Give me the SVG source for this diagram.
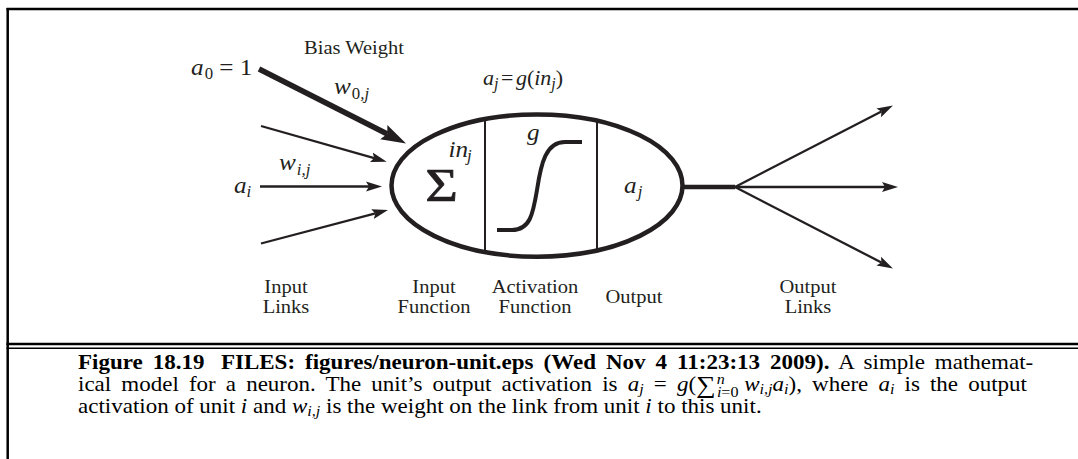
<svg xmlns="http://www.w3.org/2000/svg" width="1078" height="459" viewBox="0 0 1078 459">
<style>
.frame{stroke:#000;fill:none}
.lbl{font-family:"Liberation Serif","Times New Roman",serif;font-size:19px;fill:#231f20;text-anchor:middle}
.m{font-family:"Liberation Serif","Times New Roman",serif;font-size:24px;font-style:italic;fill:#231f20}
.s{font-size:16px}
.up{font-style:normal}
.cap{font-family:"Liberation Serif","Times New Roman",serif;font-size:20px;fill:#000}
.b{font-weight:bold}
.i{font-style:italic}
.cs{font-size:14px}
.thin{stroke:#231f20;stroke-width:2.3;fill:none}
.bold{stroke:#231f20;stroke-width:5.5;fill:none}
.unit{stroke:#231f20;fill:none}
</style>
<defs>
<marker id="ah" markerUnits="userSpaceOnUse" viewBox="0 -6 17 12" markerWidth="17" markerHeight="12" refX="3" refY="0" orient="auto">
<path d="M0,-5 L16,0 L0,5 L3,0 Z" fill="#231f20"/>
</marker>
<marker id="ahb" markerUnits="userSpaceOnUse" viewBox="0 -9 26 18" markerWidth="26" markerHeight="18" refX="4" refY="0" orient="auto">
<path d="M0,-8 L25,0 L0,8 L4,0 Z" fill="#231f20"/>
</marker>
</defs>
<rect width="1078" height="459" fill="#fff"/>
<g id="frame" class="frame">
<line x1="6.5" y1="9" x2="1078" y2="9" stroke-width="2.5"/>
<line x1="7.7" y1="8" x2="7.7" y2="459" stroke-width="2.5"/>
<line x1="6.5" y1="344" x2="1078" y2="344" stroke-width="2.5"/>
<line x1="6.5" y1="348.3" x2="1078" y2="348.3" stroke-width="1.5"/>
</g>
<g id="connectors">
<line class="bold" x1="259" y1="69" x2="387.3" y2="134" marker-end="url(#ahb)"/>
<line class="thin" x1="261" y1="126" x2="374.2" y2="158.1" marker-end="url(#ah)"/>
<line class="thin" x1="260" y1="186.5" x2="369" y2="186.5" marker-end="url(#ah)"/>
<line class="thin" x1="261" y1="243.5" x2="375.4" y2="213.4" marker-end="url(#ah)"/>
<line stroke="#231f20" stroke-width="4.5" x1="683" y1="187" x2="735" y2="187"/>
<line class="thin" x1="735" y1="187" x2="881.4" y2="111.5" marker-end="url(#ah)"/>
<line class="thin" x1="735" y1="187" x2="885" y2="187" marker-end="url(#ah)"/>
<line class="thin" x1="735" y1="187" x2="881.4" y2="262.5" marker-end="url(#ah)"/>
</g>
<g id="neuron">
<ellipse class="unit" cx="537" cy="185.6" rx="145.5" ry="71.1" stroke-width="4.5"/>
<line class="unit" x1="485" y1="118" x2="485" y2="253" stroke-width="2"/>
<line class="unit" x1="597" y1="119.5" x2="597" y2="251.5" stroke-width="2"/>
<path class="unit" stroke-width="4" d="M497,230 L512,230 C530,230 533,214 537,190 C541,163 546,142 565,142 L582,142"/>
<text class="lbl" style="font-size:46px" stroke="#231f20" stroke-width="0.7" transform="translate(441.5,200.5) scale(1.22,1)">Σ</text>
<text class="m" transform="translate(448.5,157) scale(1.05,1)">in<tspan class="s" dx="-1" dy="4">j</tspan></text>
<text class="m" transform="translate(527,140) scale(1.05,1)">g</text>
<text class="m" transform="translate(624,193) scale(1.05,1)">a<tspan class="s" dx="1" dy="4">j</tspan></text>
</g>
<g id="formula">
<text class="m" style="font-size:22px" transform="translate(483,85)">a<tspan class="s" dy="4">j</tspan><tspan class="up" dx="2.5" dy="-4">=</tspan><tspan dx="2.5">g</tspan><tspan class="up">(</tspan>in<tspan class="s" dy="4">j</tspan><tspan class="up" dy="-4">)</tspan></text>
</g>
<g id="inputs">
<text class="m" transform="translate(191,75) scale(1.05,1)">a<tspan class="s up" dx="1" dy="4">0</tspan><tspan class="up" dy="-4"> = 1</tspan></text>
<text class="lbl" transform="translate(354,54) scale(1.08,1)">Bias Weight</text>
<text class="m" transform="translate(334,93.5) scale(1.05,1)">w<tspan class="s" dx="1" dy="5"><tspan class="up">0</tspan>,j</tspan></text>
<text class="m" transform="translate(279,170) scale(1.05,1)">w<tspan class="s" dx="1" dy="4.5">i,j</tspan></text>
<text class="m" transform="translate(234,193) scale(1.05,1)">a<tspan class="s" dy="4">i</tspan></text>
</g>
<g id="labels">
<text class="lbl" transform="translate(286,293) scale(1.08,1)">Input</text>
<text class="lbl" transform="translate(286,312.5) scale(1.08,1)">Links</text>
<text class="lbl" transform="translate(434,293) scale(1.08,1)">Input</text>
<text class="lbl" transform="translate(434,312.5) scale(1.08,1)">Function</text>
<text class="lbl" transform="translate(535,293) scale(1.08,1)">Activation</text>
<text class="lbl" transform="translate(535,312.5) scale(1.08,1)">Function</text>
<text class="lbl" transform="translate(634,303) scale(1.08,1)">Output</text>
<text class="lbl" transform="translate(808,293) scale(1.08,1)">Output</text>
<text class="lbl" transform="translate(808,312.5) scale(1.08,1)">Links</text>
</g>
<g id="caption">
<text class="cap" transform="translate(78,369) scale(1.15,1)" style="word-spacing:3.7px"><tspan class="b">Figure 18.19</tspan><tspan class="b" x="124.3">FILES: figures/neuron-unit.eps (Wed Nov 4 11:23:13 2009).</tspan> A simple mathemat-</text>
<text class="cap" transform="translate(78,391) scale(1.15,1)" style="word-spacing:3.8px">ical model for a neuron.  The unit’s output activation is <tspan class="i">a</tspan><tspan class="i cs" dy="3">j</tspan><tspan dy="-3"> = </tspan><tspan class="i">g</tspan>(<tspan font-size="24" dy="2">∑</tspan><tspan class="i cs" dx="1" dy="-9">n</tspan><tspan class="cs" dx="-7" dy="13"><tspan class="i">i</tspan>=0</tspan><tspan class="i" dx="5" dy="-6">w</tspan><tspan class="i cs" dy="3">i,j</tspan><tspan class="i" dy="-3">a</tspan><tspan class="i cs" dy="3">i</tspan><tspan dy="-3">), where </tspan><tspan class="i">a</tspan><tspan class="i cs" dy="3">i</tspan><tspan dy="-3"> is the output</tspan></text>
<text class="cap" transform="translate(78,413) scale(1.15,1)">activation of unit <tspan class="i">i</tspan> and <tspan class="i">w</tspan><tspan class="i cs" dy="3">i,j</tspan><tspan dy="-3"> is the weight on the link from unit </tspan><tspan class="i">i</tspan> to this unit.</text>
</g>
</svg>
